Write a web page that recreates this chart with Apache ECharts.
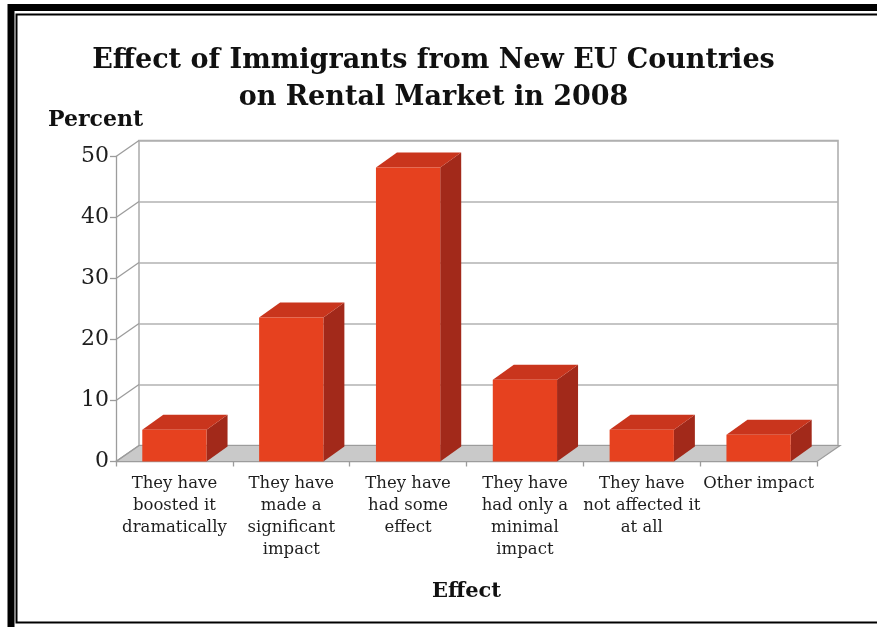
<!DOCTYPE html>
<html>
<head>
<meta charset="utf-8">
<script src="https://cdn.jsdelivr.net/npm/echarts@6/dist/echarts.min.js"></script>
<style>
  html, body { margin: 0; padding: 0; background: #fff; }
  #chart { width: 877px; height: 627px; }
</style>
</head>
<body>
<div id="chart"></div>
<script>
// Survey answers and their shares (percent)
const categories = [
  'They have\nboosted it\ndramatically',
  'They have\nmade a\nsignificant\nimpact',
  'They have\nhad some\neffect',
  'They have\nhad only a\nminimal\nimpact',
  'They have\nnot affected it\nat all',
  'Other impact'
];
const percentValues = [5.2, 23.6, 48.2, 13.4, 5.2, 4.4];
const yTicks = [0, 10, 20, 30, 40, 50];

// 3D look: offset of the back wall and depth of each column
const WALL_DX = 23, WALL_DY = 16;
const BAR_DX = 21, BAR_DY = 15;
const SERIF = 'DejaVu Serif';
const AXIS_GRAY = '#9c9c9c';

const chart = echarts.init(document.getElementById('chart'));

function renderFloor(params, api) {
  const cs = params.coordSys;
  const x0 = cs.x, x1 = cs.x + cs.width;
  const y0 = api.coord([0, 0])[1];
  const children = [{
    type: 'polygon',
    shape: { points: [[x0, y0], [x1, y0], [x1 + WALL_DX, y0 - WALL_DY], [x0 + WALL_DX, y0 - WALL_DY]] },
    style: { fill: '#c9c9c9', stroke: AXIS_GRAY, lineWidth: 1.2 }
  }];
  // side-wall lines running from each front tick to the back wall
  yTicks.forEach(function (v) {
    const y = api.coord([0, v])[1];
    children.push({
      type: 'line',
      shape: { x1: x0, y1: y, x2: x0 + WALL_DX, y2: y - WALL_DY },
      style: { stroke: AXIS_GRAY, lineWidth: 1.3 }
    });
  });
  return { type: 'group', children: children };
}

function renderBar(params, api) {
  const idx = api.value(0);
  const top = api.coord([idx, api.value(1)]);
  const base = api.coord([idx, 0]);
  const w = api.size([1, 0])[0] * 0.55;
  const x = top[0] - w / 2;
  const yT = top[1], yB = base[1];
  return {
    type: 'group',
    children: [
      {
        type: 'polygon',
        shape: { points: [[x + w, yT], [x + w + BAR_DX, yT - BAR_DY], [x + w + BAR_DX, yB - BAR_DY], [x + w, yB]] },
        style: { fill: '#a2291a' }
      },
      {
        type: 'polygon',
        shape: { points: [[x, yT], [x + BAR_DX, yT - BAR_DY], [x + w + BAR_DX, yT - BAR_DY], [x + w, yT]] },
        style: { fill: '#c9351d' }
      },
      {
        type: 'rect',
        shape: { x: x, y: yT, width: w, height: yB - yT },
        style: { fill: '#e6411f' }
      }
    ]
  };
}

const option = {
  backgroundColor: '#ffffff',
  animation: false,
  graphic: [
    { type: 'rect', shape: { x: 11, y: 7.5, width: 900, height: 640 }, style: { fill: 'none', stroke: '#000', lineWidth: 7 } },
    { type: 'rect', shape: { x: 16.5, y: 14.5, width: 900, height: 608 }, style: { fill: 'none', stroke: '#000', lineWidth: 2 } }
  ],
  title: [
    {
      text: 'Effect of Immigrants from New EU Countries\non Rental Market in 2008',
      left: 428.5,
      textAlign: 'center',
      top: 37,
      textStyle: { fontFamily: SERIF, fontWeight: 'bold', fontSize: 27, lineHeight: 37, color: '#111' }
    },
    {
      text: 'Percent',
      left: 43,
      top: 104,
      textStyle: { fontFamily: SERIF, fontWeight: 'bold', fontSize: 22, color: '#111' }
    }
  ],
  grid: [
    { left: 116, top: 156.5, width: 701, height: 305, containLabel: false },
    { left: 139, top: 140.5, width: 699, height: 305, show: true, borderColor: '#aaaaaa', borderWidth: 1.5, backgroundColor: 'transparent' }
  ],
  xAxis: [
    {
      gridIndex: 0,
      type: 'category',
      data: categories,
      axisLine: { lineStyle: { color: AXIS_GRAY, width: 1.3 } },
      axisTick: { show: true, length: 5, lineStyle: { color: AXIS_GRAY, width: 1.3 } },
      axisLabel: { interval: 0, fontFamily: SERIF, fontSize: 16.5, lineHeight: 22, color: '#1e1e1e', margin: 11 },
      name: 'Effect',
      nameLocation: 'middle',
      nameGap: 120,
      nameTextStyle: { fontFamily: SERIF, fontWeight: 'bold', fontSize: 21, color: '#111' }
    },
    { gridIndex: 1, type: 'category', data: categories, show: false }
  ],
  yAxis: [
    {
      gridIndex: 0,
      type: 'value',
      min: 0, max: 50, interval: 10,
      axisLine: { show: true, lineStyle: { color: AXIS_GRAY, width: 1.3 } },
      axisTick: { show: true, length: 6, lineStyle: { color: AXIS_GRAY, width: 1.3 } },
      axisLabel: { fontFamily: SERIF, fontSize: 22, color: '#1e1e1e', margin: 7 },
      splitLine: { show: false }
    },
    {
      gridIndex: 1,
      type: 'value',
      min: 0, max: 50, interval: 10,
      axisLine: { show: false },
      axisTick: { show: false },
      axisLabel: { show: false },
      splitLine: { show: true, lineStyle: { color: '#b2b2b2', width: 1.5 } }
    }
  ],
  series: [
    {
      type: 'custom',
      name: 'floor',
      xAxisIndex: 0, yAxisIndex: 0,
      data: [[0, 0]],
      clip: false,
      z: 1,
      silent: true,
      renderItem: renderFloor
    },
    {
      type: 'custom',
      name: 'Percent',
      xAxisIndex: 0, yAxisIndex: 0,
      data: percentValues.map(function (v, i) { return [i, v]; }),
      encode: { x: 0, y: 1 },
      clip: false,
      z: 3,
      renderItem: renderBar
    }
  ]
};

chart.setOption(option);
</script>
</body>
</html>
